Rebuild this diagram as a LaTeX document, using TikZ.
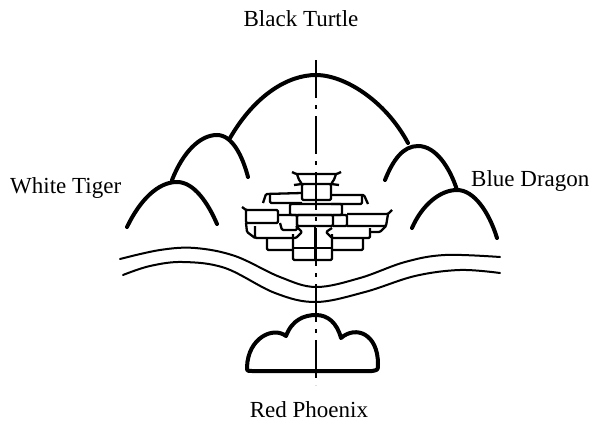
\documentclass[tikz,border=0pt]{standalone}
\usepackage{fontspec}
\setmainfont{Liberation Serif}
\begin{document}
\begin{tikzpicture}[x=1pt,y=-1pt,
  hill/.style={line width=4pt,line cap=round},
  river/.style={line width=2pt,line cap=round},
  hall/.style={line width=2.3pt,line join=round,rounded corners=1.2pt},
  cloud/.style={line width=4pt,line join=round},
  axisline/.style={line width=1.4pt,dash pattern=on 38pt off 7pt on 4pt off 7pt},
  label/.style={font=\fontsize{23}{27}\selectfont,inner sep=0pt}]
\useasboundingbox (0,0) rectangle (592,428);

% labels of the four directions
\node[label] (north) at (301,19) {Black Turtle};
\node[label] (south) at (309,410) {Red Phoenix};
\node[label,anchor=west] (west) at (10,188) {White Tiger};
\node[label,anchor=west] (east) at (471,181) {Blue Dragon};

% central axis
\coordinate (axtop) at (316,60);
\coordinate (axbot) at (316,385);
\draw[axisline] (axtop) -- (axbot);

% main mountain behind
\draw[hill] (230,138) .. controls (255,95) and (288,75) .. (316,75)
                      .. controls (344,75) and (385,100) .. (408,143);
% left range
\draw[hill] (172,180) .. controls (183,152) and (200,135) .. (217,135)
                      .. controls (233,135) and (243,158) .. (248,177);
\draw[hill] (127,227) .. controls (140,200) and (158,182) .. (177,182)
                      .. controls (194,182) and (208,203) .. (217,224);
% right range
\draw[hill] (385,180) .. controls (393,160) and (403,146) .. (418,146)
                      .. controls (436,146) and (450,168) .. (457,190);
\draw[hill] (412,228) .. controls (422,205) and (440,190) .. (457,190)
                      .. controls (474,190) and (489,212) .. (497,238);

% river
\draw[river] plot[smooth,tension=0.6] coordinates
  {(120,259) (160,250) (195,248) (235,256) (280,277) (316,287) (360,278) (405,262) (445,255) (500,257)};
\draw[river] plot[smooth,tension=0.6] coordinates
  {(123,275) (150,266) (183,262) (225,268) (275,293) (316,302) (365,292) (415,276) (460,270) (500,273)};

% palace complex
\begin{scope}[hall]
  % top pavilion
  \draw (292,172) -- (296,174) -- (337,174) -- (341,172);
  \draw (297,174) .. controls (299,180) .. (302,184) -- (294,185);
  \draw (336,174) .. controls (334,180) .. (331,184) -- (339,185);
  \draw (302,184) -- (331,184);
  \draw (302,184) rectangle (331,200);
  % upper wings
  \draw (263,203) -- (266,194) -- (302,193);
  \draw (270,194) -- (270,203) -- (302,203);
  \draw (331,195) -- (364,195) -- (368,204);
  \draw (362,195) -- (362,204) -- (331,204);
  % central band
  \draw (290,204) rectangle (342,215);
  % middle row
  \draw (242,207) -- (246,210) -- (278,210) -- (278,223) -- (246,223) -- (246,210);
  \draw (246,223) -- (247,232) -- (255,238);
  \draw (278,215) -- (297,215) -- (297,230) -- (282,230) -- (280,223);
  \draw (297,215) rectangle (333,226);
  \draw (333,215) -- (347,215) -- (347,226) -- (333,226);
  \draw (347,214) -- (388,214) -- (392,210);
  \draw (388,214) -- (386,226) -- (347,226);
  \draw (386,226) -- (380,232) -- (370,232);
  % lower row
  \draw (255,226) -- (255,238) -- (296,238) -- (302,232) -- (296,226);
  \draw (370,228) -- (370,238) -- (332,238) -- (326,232) -- (332,228);
  \draw (267,238) -- (267,250) -- (293,250);
  \draw (363,238) -- (363,250) -- (332,250);
  % bottom gate
  \draw (293,234) -- (293,260) -- (332,260) -- (332,234);
  \draw (293,248) -- (332,248);
  \draw (315,226) -- (315,260);
\end{scope}

% cloud in front
\draw[cloud] (247,367) .. controls (248,338) and (273,326) .. (286,336)
             .. controls (292,320) and (304,315) .. (316,315)
             .. controls (328,315) and (337,323) .. (341,338)
             .. controls (356,325) and (378,334) .. (378,364)
             .. controls (378,370) .. (372,371) -- (252,371)
             .. controls (247,371) .. (247,367) -- cycle;
\end{tikzpicture}
\end{document}
